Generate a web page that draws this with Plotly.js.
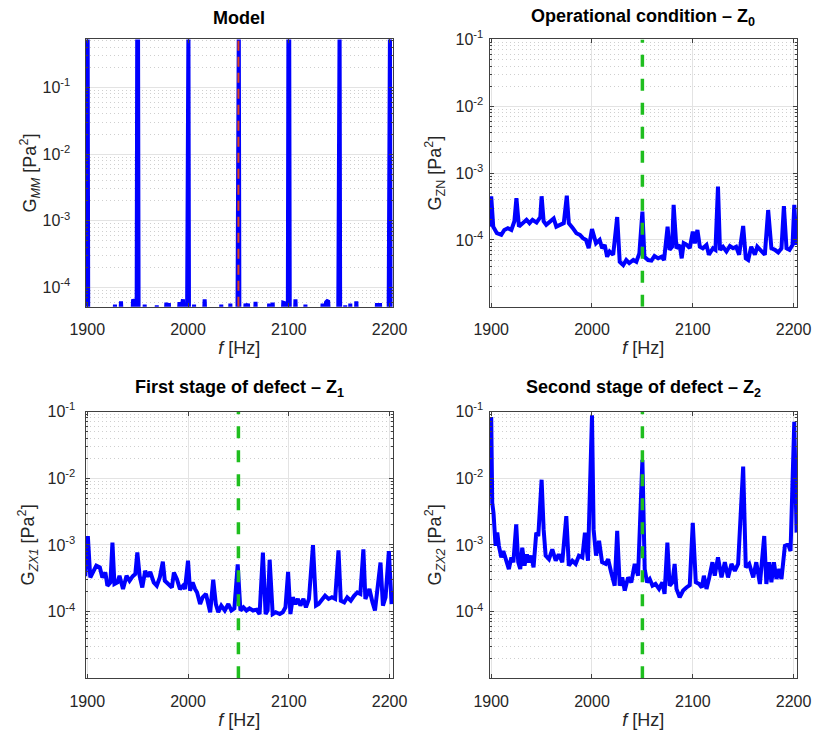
<!DOCTYPE html>
<html><head><meta charset="utf-8">
<script src="https://cdn.plot.ly/plotly-3.0.1.min.js"></script>
<style>html,body{margin:0;padding:0;background:#fff}#chart{width:813px;height:735px}</style>
</head><body><div id="chart"></div>
<script>
// ---------------- DATA ----------------
// Model spectrum G_MM (values below the axis floor are off-scale)
const modelFreq = [1898,1899,1899.6,1900.4,1901, 1926,1927.5,1929, 1932,1933.5,1935, 1944,1945.5,1947,1948.5,
  1949,1949.6,1950.4,1951, 1956,1957,1958, 1968,1969,1970, 1977,1978.5,1980,1981,1982.5, 1990,1991.5,1993,1995,1996.5,
  1999,1999.6,2000.4,2001, 2005,2006,2007, 2015,2016.5,2018, 2032,2033,2034, 2041,2042,2043, 2049,2049.6,2050.4,2051,
  2056,2057,2058.5,2059.5,2061, 2066,2067,2068, 2079,2080.5,2082,2084,2085.5, 2093,2094.5,2096,2098,
  2099,2099.6,2100.4,2101, 2105.5,2106.6,2108, 2115.5,2116.5,2117.5, 2132,2133.5,2135,2137,2139,2141,
  2149,2149.6,2150.4,2151, 2155,2156,2157, 2160,2161,2162, 2166,2167,2168.5, 2186,2187.5,2189,2190.5,2191.5,
  2199,2199.6,2200.4,2201,2203];
const modelG = [2e-5,2e-5,1,1,2e-5, 2e-5,5.5e-5,2e-5, 2e-5,6.2e-5,2e-5, 2e-5,6.6e-5,6e-5,2e-5,
  2e-5,1,1,2e-5, 2e-5,5.5e-5,2e-5, 2e-5,5.4e-5,2e-5, 2e-5,5.9e-5,3e-5,5.8e-5,2e-5, 2e-5,6e-5,4.5e-5,6.6e-5,2e-5,
  2e-5,1,1,2e-5, 2e-5,5.5e-5,2e-5, 2e-5,6.6e-5,2e-5, 2e-5,5.5e-5,2e-5, 2e-5,5.7e-5,2e-5, 2e-5,1,1,2e-5,
  2e-5,5.7e-5,4.5e-5,5.7e-5,2e-5, 2e-5,6.1e-5,2e-5, 2e-5,5.7e-5,3e-5,5.9e-5,2e-5, 2e-5,5.9e-5,5.8e-5,2e-5,
  2e-5,1,1,2e-5, 2e-5,6.6e-5,2e-5, 2e-5,5.5e-5,2e-5, 2e-5,5.7e-5,4e-5,6e-5,6.4e-5,2e-5,
  2e-5,1,1,2e-5, 2e-5,5.4e-5,2e-5, 2e-5,5.7e-5,2e-5, 2e-5,6.2e-5,2e-5, 2e-5,5.8e-5,4e-5,5.8e-5,2e-5,
  2e-5,1,1,2e-5,2e-5];

// Operational condition Z0 : G_ZN
const z0Freq = [1898,1900,1902,1905.6,1910,1913,1916.5,1920,1923,1925,1927.5,1931,1935,1938,1941,1945,1948.7,1950,
  1952,1954.6,1958,1962,1964.6,1968,1972,1975,1977,1981,1984.5,1988,1991,1994,1996.7,2000,2001.7,2004,2007.6,
  2010,2012.6,2015,2017.5,2021,2025,2027.5,2031,2034,2037,2041,2044,2047,2050,2052,2055.6,2059,2062,2065.6,
  2069,2071.5,2075,2077,2079.5,2081,2083.8,2087,2089,2091,2094,2097,2100,2102,2104.6,2107,2110,2113.6,2116,
  2120,2122.5,2125,2127,2130,2133.4,2136.8,2140,2143,2146,2150,2152.6,2155,2158,2161.6,2164,2168,2171.5,
  2174.8,2178,2181.5,2184.8,2188,2190.4,2193,2196,2199,2200.7,2203];
const z0G = [1.58e-4,4.5e-4,1.58e-4,1.26e-4,1.19e-4,1.41e-4,1.5e-4,1.41e-4,1.9e-4,4.2e-4,1.58e-4,1.78e-4,2.0e-4,1.78e-4,2.0e-4,1.82e-4,2.2e-4,4.5e-4,
  1.9e-4,1.68e-4,1.9e-4,2.1e-4,1.58e-4,1.68e-4,1.78e-4,4.6e-4,1.78e-4,1.5e-4,1.26e-4,1.19e-4,1.06e-4,1.0e-4,7.5e-5,1.45e-4,1.12e-4,8.9e-5,1.0e-4,
  7.5e-5,8.4e-5,5.6e-5,6.7e-5,6.0e-5,2.2e-4,4.7e-5,4.2e-5,5.0e-5,4.5e-5,5.0e-5,4.7e-5,6.3e-5,2.66e-4,5.6e-5,5.0e-5,4.9e-5,5.75e-5,5.3e-5,
  5.6e-5,5.0e-5,1.58e-4,7.1e-5,7.9e-5,3.35e-4,7.5e-5,8.4e-5,5.3e-5,8.9e-5,8.4e-5,7.5e-5,1.33e-4,8.9e-5,1.41e-4,7.9e-5,7.5e-5,8.4e-5,6.0e-5,
  7.5e-5,7.1e-5,6.3e-4,7.1e-5,7.9e-5,6.7e-5,8.1e-5,7.5e-5,7.9e-5,6.0e-5,1.62e-4,5.3e-5,5.0e-5,7.9e-5,6.0e-5,7.9e-5,6.7e-5,6.0e-5,
  2.8e-4,7.5e-5,7.1e-5,6.5e-5,7.5e-5,3.2e-4,7.5e-5,7.1e-5,8.4e-5,3.35e-4,8.4e-5];

// First stage of defect Z1 : G_ZX1
const z1Freq = [1898,1900.6,1903,1906,1909,1912.5,1915,1918,1920,1923,1925,1927,1930,1932,1935.5,1939,1942,1945,1947.7,1949.7,
  1952,1954.6,1957.5,1960,1962.5,1966,1969,1972,1975,1977,1980.6,1984,1986,1989,1992,1995,1997,2000,2002,2004.6,2007,
  2009,2012,2014.5,2017.8,2020,2022,2025,2027.6,2030,2033,2036.5,2040,2043,2046,2049.3,2052,2055,2058,2061,2064.5,
  2068,2071,2074.3,2077,2079,2081,2084,2087,2091,2094,2096.7,2099.3,2101.6,2104,2106.6,2109,2111.5,2114.5,2117,2120,
  2124,2127,2129.6,2133,2136,2139.5,2142.8,2146,2149.3,2151.6,2155,2158,2161.5,2164.8,2168,2171,2174,2176,2180,2183,
  2185.5,2191,2193.4,2196,2199.3,2202];
const z1G = [3.4e-4,1.36e-3,3.25e-4,4.1e-4,4.9e-4,4.6e-4,3.25e-4,3.86e-4,2.44e-4,2.74e-4,1.08e-3,2.59e-4,2.74e-4,3.44e-4,2.18e-4,3.44e-4,2.9e-4,3.37e-4,3.65e-4,7.7e-4,
  3.44e-4,2.3e-4,4.1e-4,3.37e-4,3.95e-4,2.74e-4,2.44e-4,3.25e-4,5.6e-4,2.9e-4,2.59e-4,2.3e-4,3.86e-4,3.07e-4,2.18e-4,2.44e-4,2.18e-4,5.8e-4,2.06e-4,2.74e-4,2.18e-4,
  1.94e-4,1.3e-4,1.64e-4,1.84e-4,1.23e-4,9.8e-5,3.0e-4,1.3e-4,9.8e-5,1.23e-4,1.04e-4,1.3e-4,1.04e-4,1.12e-4,5.1e-4,1.04e-4,1.16e-4,1.04e-4,1.12e-4,1.04e-4,
  1.07e-4,9.2e-5,7.7e-4,9.2e-5,1.04e-4,6.0e-4,9.2e-5,9.8e-5,9.2e-5,9.8e-5,1.16e-4,3.95e-4,9.2e-5,1.64e-4,1.3e-4,1.55e-4,1.23e-4,1.55e-4,1.16e-4,1.55e-4,
  9.9e-4,1.23e-4,1.3e-4,1.55e-4,1.73e-4,1.55e-4,1.64e-4,1.55e-4,8.3e-4,1.46e-4,1.38e-4,1.64e-4,1.46e-4,1.73e-4,1.94e-4,1.84e-4,8.6e-4,1.55e-4,2.18e-4,1.38e-4,
  1.04e-4,5.45e-4,1.23e-4,1.64e-4,8.1e-4,1.3e-4];

// Second stage of defect Z2 : G_ZX2
const z2Freq = [1898,1900,1901,1902.3,1904.3,1906,1907.6,1910,1912,1915,1917.5,1920,1922,1924.8,1926.8,1928.8,1930.8,1933,1935.4,1937.4,
  1939.7,1942,1944.7,1946.7,1950,1952,1954,1957.3,1960.6,1964,1967,1970.5,1974.5,1977,1980.5,1983.8,1987,1990.4,1993,1996,
  2000,2001.6,2004,2007,2010,2013.6,2016,2019,2022.5,2025,2027.5,2030,2032.5,2035.8,2039,2042.4,2045.7,2050,2052.3,2054.6,
  2057.3,2060,2063,2066.5,2069.8,2072,2074.8,2077,2079.8,2082,2083.8,2087,2090.4,2093.7,2097,2100,2103,2106.3,2109,2111,
  2113.6,2116,2119.5,2121.8,2125,2128.5,2131.8,2135,2138.4,2141.7,2145,2150,2152.6,2156,2160,2163,2166.6,2170.9,2173,2175.8,
  2178,2180.5,2183,2185.8,2188,2191.4,2194.7,2197,2200.7,2203];
const z2G = [5.4e-3,8.3e-2,4.3e-3,3.0e-3,9.7e-4,1.53e-3,9.7e-4,6.5e-4,8.1e-4,5.5e-4,4.35e-4,6.5e-4,5.5e-4,2.03e-3,5.5e-4,4.35e-4,9.1e-4,4.9e-4,7.2e-4,5.5e-4,
  6.9e-4,4.6e-4,1.53e-3,1.36e-3,9.5e-3,1.71e-3,6.9e-4,6.1e-4,8.6e-4,5.8e-4,7.2e-4,5.5e-4,2.7e-3,4.9e-4,5.8e-4,5.2e-4,6.9e-4,6.5e-4,1.53e-3,5.8e-4,
  8.8e-2,1.71e-3,6.9e-4,1.15e-3,5.5e-4,5.2e-4,6.1e-4,3.9e-4,2.45e-4,1.62e-3,2.45e-4,3.26e-4,2.07e-4,3.26e-4,2.75e-4,5.2e-4,3.45e-4,1.88e-2,4.35e-4,2.75e-4,
  3.08e-4,2.45e-4,2.6e-4,2.19e-4,2.75e-4,1.84e-4,1.08e-3,2.45e-4,2.75e-4,5.2e-4,2.19e-4,1.64e-4,2.07e-4,2.3e-4,2.5e-4,2.15e-3,2.75e-4,2.6e-4,2.3e-4,3.45e-4,
  2.19e-4,3.08e-4,5.5e-4,3.45e-4,6.5e-4,3.26e-4,5.5e-4,3.26e-4,5.2e-4,4.1e-4,5.2e-4,1.5e-2,4.6e-4,5.2e-4,3.26e-4,5.5e-4,2.6e-4,1.36e-3,2.6e-4,5.5e-4,
  2.75e-4,5.5e-4,3.08e-4,4.35e-4,3.08e-4,9.7e-4,1.02e-3,8.1e-4,7.0e-2,1.53e-3];

const defectFreq = 2050;                 // dashed marker frequency
const panelTitles = ['<b>Model</b>', '<b>Operational condition – Z<sub>0</sub></b>',
                     '<b>First stage of defect – Z<sub>1</sub></b>', '<b>Second stage of defect – Z<sub>2</sub></b>'];
const yTitles = ['G<sub><i>MM</i></sub> [Pa<sup>2</sup>]', 'G<sub>ZN</sub> [Pa<sup>2</sup>]',
                 'G<sub><i>ZX1</i></sub> [Pa<sup>2</sup>]', 'G<sub><i>ZX2</i></sub> [Pa<sup>2</sup>]'];
const xTitleText = '<i>f</i> [Hz]';
const xTickVals = [1900, 2000, 2100, 2200];
const yTickVals = [1e-4, 1e-3, 1e-2, 1e-1];
const yTickText = ['10<sup>-4</sup>', '10<sup>-3</sup>', '10<sup>-2</sup>', '10<sup>-1</sup>'];

// ---------------- STYLE / LAYOUT ----------------
const FONT = 'Liberation Sans, Arial, Helvetica, sans-serif';
const xRange = [1898.3, 2203.4];
const yRanges = [[-4.29, -0.28], [-5, -1], [-5, -1], [-5, -1]];
const xDomains = [[0.1052, 0.4834], [0.6021, 0.9803], [0.1052, 0.4834], [0.6021, 0.9803]];
const yDomains = [[0.5827, 0.9463], [0.5827, 0.9463], [0.0771, 0.4401], [0.0771, 0.4401]];
const yLabelStandoff = [11, 2, 6, 2];
const yTitleStandoff = [1, 9, 8, 9];
const markerColors = ['#e0401a', '#1fbe1f', '#1fbe1f', '#1fbe1f'];
const markerDash = ['10px,6px', '12px,12px', '12px,12px', '12px,12px'];
const markerWidth = [2, 3.5, 3.5, 3.5];

const minorVals = [];
for (let e = -6; e <= 0; e++) for (let m = 2; m <= 9; m++) minorVals.push(m * Math.pow(10, e));

const series = [[modelFreq, modelG], [z0Freq, z0G], [z1Freq, z1G], [z2Freq, z2G]];
const traces = [];
const layout = {
  width: 813, height: 735, margin: {l: 0, r: 0, t: 0, b: 0},
  paper_bgcolor: '#ffffff', plot_bgcolor: '#ffffff', showlegend: false,
  font: {family: FONT, color: '#262626'}, annotations: []
};

series.forEach((s, i) => {
  const n = i + 1, sx = n === 1 ? '' : String(n);
  traces.push({x: s[0], y: s[1], type: 'scatter', mode: 'lines', xaxis: 'x' + sx, yaxis: 'y' + sx,
    line: {color: '#0000ff', width: 4, shape: 'linear'}, hoverinfo: 'x+y'});
  traces.push({x: [defectFreq, defectFreq], y: [Math.pow(10, yRanges[i][0]), Math.pow(10, yRanges[i][1])],
    type: 'scatter', mode: 'lines', xaxis: 'x' + sx, yaxis: 'y' + sx,
    line: {color: markerColors[i], width: markerWidth[i], dash: markerDash[i]}, hoverinfo: 'skip'});
  layout['xaxis' + sx] = {
    domain: xDomains[i], anchor: 'y' + sx, range: xRange, tickmode: 'array', tickvals: xTickVals,
    ticks: 'inside', ticklen: 4, tickcolor: '#404040', showline: true, linecolor: '#404040', linewidth: 1,
    mirror: 'ticks', showgrid: true, gridcolor: '#e3e3e3', gridwidth: 1, zeroline: false,
    tickfont: {family: FONT, size: 16, color: '#262626'}, ticklabelstandoff: 8,
    title: {text: xTitleText, font: {family: FONT, size: 18, color: '#262626'}, standoff: 4}
  };
  layout['yaxis' + sx] = {
    domain: yDomains[i], anchor: 'x' + sx, type: 'log', range: yRanges[i], tickmode: 'array',
    tickvals: yTickVals, ticktext: yTickText,
    ticks: 'inside', ticklen: 4, tickcolor: '#404040', showline: true, linecolor: '#404040', linewidth: 1,
    mirror: 'ticks', showgrid: true, gridcolor: '#e3e3e3', gridwidth: 1, zeroline: false,
    minor: {tickmode: 'array', tickvals: minorVals, ticks: 'inside', ticklen: 2, tickcolor: '#404040',
            showgrid: true, gridcolor: '#cfcfcf', gridwidth: 1, griddash: '1px,3px'},
    tickfont: {family: FONT, size: 16, color: '#262626'}, ticklabelstandoff: yLabelStandoff[i],
    title: {text: yTitles[i], font: {family: FONT, size: 18, color: '#262626'}, standoff: yTitleStandoff[i]}
  };
  layout.annotations.push({
    text: panelTitles[i], xref: 'paper', yref: 'paper', showarrow: false,
    x: (xDomains[i][0] + xDomains[i][1]) / 2, xanchor: 'center',
    y: i < 2 ? 1 - 17.5 / 735 : 1 - 388 / 735, yanchor: 'middle',
    font: {family: FONT, size: 18, color: '#000000'}
  });
});

Plotly.newPlot('chart', traces, layout, {staticPlot: true, displayModeBar: false});
</script></body></html>
